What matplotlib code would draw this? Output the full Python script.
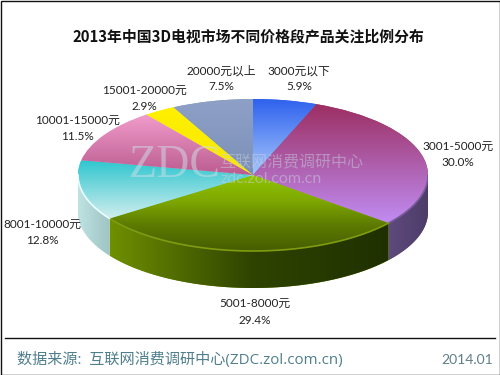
import numpy as np
import matplotlib
matplotlib.use("Agg")
import matplotlib.pyplot as plt
from matplotlib.colors import LinearSegmentedColormap
from matplotlib.patches import Polygon, Rectangle

plt.rcParams['font.family'] = ['Lato', 'Noto Sans CJK SC', 'DejaVu Sans']

categories = ["3000元以下", "3001-5000元", "5001-8000元", "8001-10000元",
              "10001-15000元", "15001-20000元", "20000元以上"]
shares = [5.9, 30.0, 29.4, 12.8, 11.5, 2.9, 7.5]

# colours of the top faces, top to bottom
top_colors = [("#2f62ee", "#a5c6fb"), ("#9c2f63", "#c08cf2"),
              ("#8fc400", "#7fa800", "#5c7a00", "#465e00"),
              ("#2fc6cf", "#d2eeee"), ("#f19ccb", "#bb5c90"), ("#fff000", "#f8e800"),
              ("#8ea0c6", "#7c90b8")]
# colours of the walls, left to right
side_colors = [("#5a72c0", "#5a72c0"), ("#5e4a7c", "#4d3c68"), ("#6f8f00", "#2f4400", "#1f3000"),
               ("#bfe2e2", "#9fc4c4"), ("#b0709a", "#b0709a"), ("#d0c000", "#d0c000"),
               ("#7080a0", "#7080a0")]
# thin rim between the top face and the wall
rim_colors = [None, "#7a5a9c", "#7f9c10", "#eaffff", None, None, None]
# label centres in pixels: (x, y of the name, y of the share)
label_pos = [(299, 71, 87), (458, 146, 162), (255, 303, 320), (42, 224, 241),
             (77, 120, 137), (144, 90, 107), (221, 71, 87)]

fig = plt.figure(figsize=(5, 3.75), dpi=100, facecolor="white")

# page axes in pixel coordinates
page = fig.add_axes([0, 0, 1, 1], zorder=3)
page.set_xlim(0, 500)
page.set_ylim(375, 0)
page.axis("off")
page.patch.set_alpha(0)

# pie axes: the top ellipse spans y 99..251, the wall goes down to 288
depth = 37 / 76
ax = fig.add_axes([78 / 500, 1 - 288 / 375, 350 / 500, 189 / 375], zorder=1)
wedges, _ = ax.pie(shares, startangle=90, counterclock=False, radius=1,
                   colors=[c[0] for c in top_colors])
ax.set_aspect("auto")


def gradient(colors, extent, clip, horizontal=False, zorder=2):
    cmap = LinearSegmentedColormap.from_list("g", list(colors))
    g = np.linspace(0, 1, 128)
    g = g.reshape(1, -1) if horizontal else g.reshape(-1, 1)
    im = ax.imshow(g, cmap=cmap, extent=extent, origin="upper", aspect="auto",
                   interpolation="bilinear", vmin=0, vmax=1, zorder=zorder)
    im.set_clip_path(clip)


# walls of the front half
edges = 90 - np.cumsum([0] + shares) * 3.6
for i in range(len(shares)):
    a1, a2 = max(edges[i + 1], -180), min(edges[i], 0)
    if a2 <= a1:
        continue
    t = np.radians(np.linspace(a1, a2, 80))
    x, y = np.cos(t), np.sin(t)
    pts = np.r_[np.c_[x, y], np.c_[x, y - depth][::-1]]
    wall = Polygon(pts, closed=True, fc=side_colors[i][0], ec="none", zorder=1)
    ax.add_patch(wall)
    gradient(side_colors[i], (x.min(), x.max(), -1 - depth, 1), wall, horizontal=True, zorder=1.5)
    if rim_colors[i]:
        ax.plot(x, y, color=rim_colors[i], lw=1.2, zorder=3)

# top faces
for w, c in zip(wedges, top_colors):
    w.set_edgecolor("none")
    b = w.get_path().get_extents(w.get_patch_transform())
    gradient(c, (-1, 1, b.y0, b.y1), w)

ax.set_xlim(-1, 1)
ax.set_ylim(-1 - depth, 1)
ax.axis("off")

# title, labels
page.text(248, 36, "2013年中国3D电视市场不同价格段产品关注比例分布", ha="center", va="center",
          fontsize=10.7, fontweight="bold", color="#111111",
          family=['Noto Sans CJK SC', 'DejaVu Sans'])
for name, share, (lx, ly, sy) in zip(categories, shares, label_pos):
    page.text(lx, ly, name, ha="center", va="center", fontsize=8.5, color="#222222")
    page.text(lx, sy, "%.1f%%" % share, ha="center", va="center", fontsize=8.5, color="#222222")

# watermark
page.text(175, 166, "ZDC", ha="center", va="center", fontsize=33, color="#d0dfe8", alpha=0.5,
          family="Liberation Serif")
page.text(291, 163, "互联网消费调研中心", ha="center", va="center", fontsize=11.5, color="#c8d0dc", alpha=0.5)
page.text(271, 179, "zdc.zol.com.cn", ha="center", va="center", fontsize=11.5, color="#c8d0dc", alpha=0.5)

# footer
page.plot([5, 495], [338, 338], color="#111111", lw=1)
page.text(17, 360, "数据来源:  互联网消费调研中心(ZDC.zol.com.cn)", ha="left", va="center",
          fontsize=10.9, color="#4f7f8c", family=['Open Sans', 'Noto Sans CJK SC'])
page.text(493, 360, "2014.01", ha="right", va="center", fontsize=10, color="#5f7f88")

# outer border
page.add_patch(Rectangle((0.5, 0.5), 499, 374, fc="none", ec="#111111", lw=1))

fig.savefig("out.png", dpi=100)
